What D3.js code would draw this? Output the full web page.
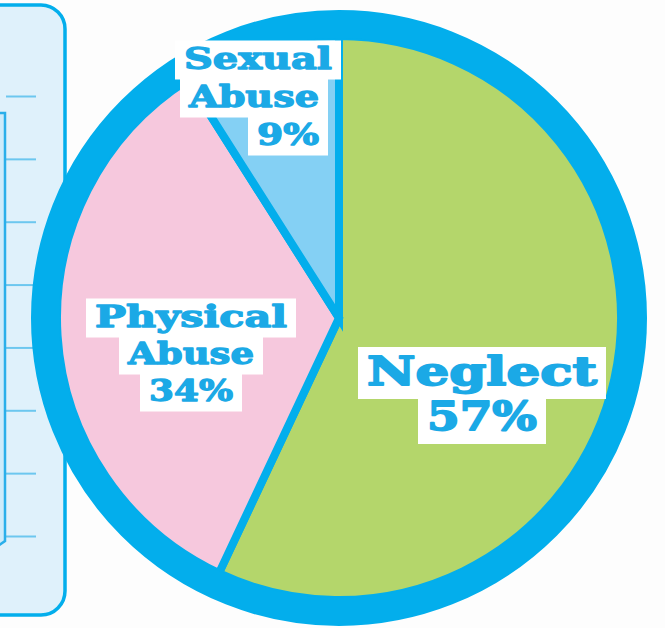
<!DOCTYPE html>
<html>
<head>
<meta charset="utf-8">
<script src="https://cdn.jsdelivr.net/npm/d3@7"></script>
<style>
  body { margin: 0; background: #fdfdfd; }
  svg { display: block; }
</style>
</head>
<body>
<svg id="chart"></svg>
<script>
const width = 665;
const height = 628;

// pie data
const categories = ["Neglect", "Physical Abuse", "Sexual Abuse"];
const percents = [57, 34, 9];
const sliceColors = ["#b4d66b", "#f6c8dd", "#84d0f4"];

// label lines per slice
const labelLines = [["Neglect", "57%"], ["Physical", "Abuse", "34%"], ["Sexual", "Abuse", "9%"]];

// ticks of the cut-off panel on the left
const panelTicks = [1, 2, 3, 4, 5, 6, 7, 8];

const blue = "#03aeec";
const textBlue = "#1ba9e6";

const svg = d3.select("#chart")
    .attr("width", width)
    .attr("height", height)
    .attr("viewBox", [0, 0, width, height]);

//left panel (another chart, cut off)
const panel = svg.append("g");
panel.append("rect")
    .attr("x", -40)
    .attr("y", 5)
    .attr("width", 105)
    .attr("height", 610)
    .attr("rx", 24)
    .attr("fill", "#dff1fb")
    .attr("stroke", blue)
    .attr("stroke-width", 3.5);

const yPanel = d3.scaleLinear()
    .domain([1, 8])
    .range([96, 536]);

panel.append("g")
    .attr("transform", "translate(36,0)")
    .call(d3.axisLeft(yPanel).tickValues(panelTicks).tickSize(30).tickFormat(""))
    .call(g => g.select(".domain").remove())
    .call(g => g.selectAll("line").attr("stroke", "#6cc7ef").attr("stroke-width", 2));

panel.append("path")
    .attr("d", "M-10,113 L5,113 L5,541 L-2,546")
    .attr("fill", "#cdebfa")
    .attr("stroke", "#2aafea")
    .attr("stroke-width", 2.5);

// pie
const cx = 339, cy = 318;
const rOuter = 308, ringW = 28;
const rPie = rOuter - ringW + 2;

const pieData = categories.map((c, i) => ({ name: c, value: percents[i], color: sliceColors[i], lines: labelLines[i] }));

const pie = d3.pie().sort(null).value(d => d.value);
const arc = d3.arc().innerRadius(0).outerRadius(rPie);

const gPie = svg.append("g").attr("transform", `translate(${cx},${cy})`);

gPie.selectAll("path.slice")
    .data(pie(pieData))
    .join("path")
    .attr("class", "slice")
    .attr("d", arc)
    .attr("fill", d => d.data.color)
    .attr("stroke", blue)
    .attr("stroke-width", 8)
    .attr("stroke-linejoin", "miter");

gPie.append("circle")
    .attr("r", rOuter - ringW / 2)
    .attr("fill", "none")
    .attr("stroke", blue)
    .attr("stroke-width", ringW);

// labels: x center, first baseline, line height, font size, widths
const labelLayout = {
    "Neglect": { x: 482, y: 385, lh: 45, fs: 40, w: [230, 110] },
    "Physical Abuse": { x: 191, y: 327, lh: 37, fs: 30, w: [192, 126, 84] },
    "Sexual Abuse": { x: 258, y: 69, lh: 38, fs: 30, w: [148, 130, 62], dx: [0, -4, 30] }
};

const gLabels = svg.append("g");

pieData.forEach(d => {
    const L = labelLayout[d.name];
    const g = gLabels.append("g");
    // white paper boxes first
    d.lines.forEach((line, i) => {
        const x = L.x + (L.dx ? L.dx[i] : 0);
        const y = L.y + i * L.lh;
        g.append("rect")
            .attr("x", x - L.w[i] / 2 - 9)
            .attr("y", y - L.fs * 0.95)
            .attr("width", L.w[i] + 18)
            .attr("height", L.fs * 1.3)
            .attr("fill", "#ffffff");
    });
    d.lines.forEach((line, i) => {
        const x = L.x + (L.dx ? L.dx[i] : 0);
        const y = L.y + i * L.lh;
        g.append("text")
            .attr("x", x)
            .attr("y", y)
            .attr("text-anchor", "middle")
            .attr("font-family", "DejaVu Serif")
            .attr("font-weight", "bold")
            .attr("font-size", L.fs)
            .attr("textLength", L.w[i])
            .attr("lengthAdjust", "spacingAndGlyphs")
            .attr("fill", textBlue)
            .attr("stroke", textBlue)
            .attr("stroke-width", L.fs > 35 ? 1.8 : 1.3)
            .attr("stroke-linejoin", "round")
            .text(line);
    });
});
</script>
</body>
</html>
